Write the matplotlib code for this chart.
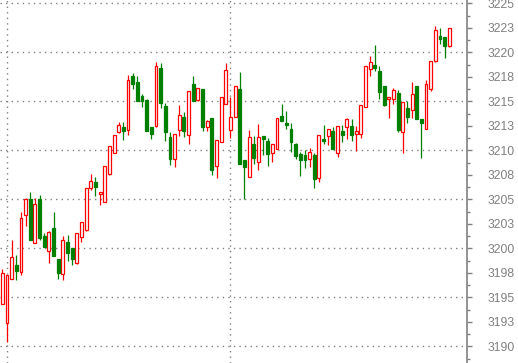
import numpy as np
import matplotlib
matplotlib.use("Agg")
import matplotlib.pyplot as plt
from matplotlib.ticker import MultipleLocator, FuncFormatter

# bougies (open, high, low, close)
opens = [3194.3, 3192.35, 3196.85, 3198.25, 3197.6, 3203.45, 3205.0, 3200.5, 3205.0, 3201.3,
         3199.75, 3202.05, 3198.9, 3197.35, 3200.6, 3200.05, 3198.5, 3201.2, 3201.85, 3206.2,
         3206.75, 3205.55, 3204.75, 3207.6, 3209.75, 3211.85, 3212.4, 3212.05, 3217.55, 3216.95,
         3215.55, 3215.1, 3212.4, 3212.5, 3218.4, 3214.5, 3211.35, 3209.1, 3212.05, 3213.4,
         3211.55, 3216.75, 3215.15, 3216.25, 3212.35, 3213.3, 3208.45, 3210.8, 3214.7, 3212.05,
         3213.45, 3216.25, 3209.0, 3207.3, 3210.65, 3208.8, 3211.45, 3210.95, 3209.75, 3210.15,
         3213.5, 3212.8, 3212.2, 3210.65, 3209.6, 3209.5, 3209.15, 3209.5, 3207.2, 3211.2,
         3211.5, 3211.95, 3209.75, 3211.95, 3212.35, 3212.5, 3211.65, 3211.65, 3214.4, 3218.35,
         3218.7, 3218.1, 3216.55, 3215.25, 3215.25, 3215.85, 3211.85, 3214.3, 3214.1, 3216.55,
         3213.2, 3212.15, 3216.3, 3219.1, 3221.65, 3221.55, 3220.6]
highs = [3197.9, 3197.25, 3200.85, 3199.3, 3203.7, 3205.15, 3205.75, 3205.15, 3205.45, 3201.55,
         3201.8, 3203.7, 3198.9, 3201.25, 3201.35, 3200.05, 3201.55, 3202.65, 3206.2, 3207.6,
         3207.3, 3205.75, 3208.45, 3210.4, 3211.55, 3212.9, 3212.9, 3217.65, 3217.9, 3217.6,
         3215.75, 3215.25, 3212.4, 3219.0, 3218.9, 3214.85, 3211.85, 3211.65, 3214.6, 3213.9,
         3216.05, 3217.6, 3216.35, 3216.25, 3213.1, 3213.3, 3211.1, 3215.4, 3218.9, 3215.4,
         3216.55, 3218.0, 3209.0, 3212.05, 3211.45, 3212.7, 3211.45, 3211.25, 3210.6, 3213.35,
         3214.75, 3214.0, 3212.8, 3210.75, 3209.85, 3210.05, 3210.25, 3209.7, 3211.55, 3212.6,
         3212.15, 3212.35, 3212.45, 3212.6, 3213.35, 3213.2, 3212.5, 3214.6, 3218.65, 3219.65,
         3220.75, 3218.6, 3216.55, 3215.4, 3216.35, 3216.15, 3214.95, 3215.05, 3217.0, 3216.55,
         3213.2, 3217.2, 3219.1, 3222.7, 3222.5, 3221.55, 3222.45]
lows = [3194.3, 3190.4, 3196.85, 3196.75, 3197.3, 3202.3, 3200.8, 3200.5, 3200.85, 3200.15,
        3198.55, 3199.25, 3196.85, 3196.75, 3198.75, 3198.3, 3198.45, 3200.6, 3201.8, 3205.95,
        3205.35, 3204.45, 3204.75, 3207.5, 3209.75, 3211.8, 3211.05, 3211.55, 3216.3, 3215.05,
        3214.45, 3212.0, 3211.2, 3212.4, 3214.35, 3211.0, 3208.55, 3208.25, 3211.5, 3211.4,
        3210.6, 3215.05, 3215.05, 3212.0, 3212.0, 3207.5, 3207.2, 3210.8, 3214.7, 3211.3,
        3213.45, 3208.65, 3205.0, 3207.3, 3208.65, 3207.95, 3209.55, 3208.45, 3208.8, 3210.15,
        3212.95, 3212.2, 3209.85, 3209.15, 3207.4, 3208.15, 3208.25, 3206.2, 3206.8, 3210.65,
        3210.5, 3210.15, 3209.35, 3210.8, 3211.2, 3211.0, 3209.95, 3211.3, 3214.4, 3217.6,
        3218.1, 3215.25, 3214.5, 3213.25, 3214.75, 3211.85, 3209.75, 3212.8, 3213.35, 3213.15,
        3209.25, 3212.15, 3216.1, 3219.0, 3220.9, 3219.45, 3220.5]
closes = [3197.5, 3197.25, 3199.1, 3197.7, 3203.05, 3205.0, 3200.8, 3204.5, 3201.1, 3200.15,
          3201.65, 3199.25, 3197.5, 3200.85, 3199.55, 3198.95, 3201.55, 3202.65, 3206.2, 3206.85,
          3206.3, 3205.7, 3208.45, 3210.4, 3211.55, 3212.55, 3211.95, 3217.15, 3216.8, 3215.05,
          3215.05, 3212.0, 3211.7, 3218.65, 3214.85, 3211.9, 3209.15, 3211.65, 3213.65, 3212.0,
          3216.05, 3215.05, 3216.35, 3212.4, 3212.95, 3207.95, 3211.1, 3215.4, 3218.2, 3213.45,
          3216.55, 3208.65, 3208.25, 3211.35, 3209.2, 3211.35, 3211.2, 3209.65, 3210.6, 3213.35,
          3212.95, 3212.6, 3210.8, 3209.45, 3209.05, 3209.05, 3209.8, 3207.1, 3211.55, 3211.0,
          3212.15, 3210.15, 3212.45, 3211.6, 3213.2, 3211.6, 3211.95, 3214.6, 3218.65, 3219.0,
          3218.45, 3216.0, 3214.65, 3215.4, 3216.15, 3212.1, 3214.95, 3213.45, 3215.75, 3213.15,
          3212.8, 3216.75, 3219.1, 3222.25, 3221.4, 3220.6, 3222.45]

separateurs = [1, 49]   # lignes verticales pointillées

o = np.array(opens)
h = np.array(highs)
l = np.array(lows)
c = np.array(closes)
x = np.arange(len(o))
hausse = c >= o

ROUGE = "#ff0000"
VERT = "#008000"
GRIS = "#808080"

fig = plt.figure(figsize=(5.18, 3.63), dpi=100)
ax = fig.add_axes([0, 0, 467 / 518, 1])

couleurs = np.where(hausse, ROUGE, VERT)
ax.vlines(x, l, h, colors=couleurs, linewidth=0.9, zorder=3)
corps = np.maximum(np.abs(c - o), 0.08)
ax.bar(x[hausse], corps[hausse], bottom=np.minimum(o, c)[hausse], width=0.62,
       facecolor="white", edgecolor=ROUGE, linewidth=0.9, zorder=4)
ax.bar(x[~hausse], corps[~hausse], bottom=np.minimum(o, c)[~hausse], width=0.62,
       facecolor=VERT, edgecolor=VERT, linewidth=0.9, zorder=4)

ax.set_xlim(-0.5, 99.8)
ax.set_ylim(3188.3, 3225.34)

# axe de droite
ax.yaxis.tick_right()
ax.yaxis.set_major_locator(MultipleLocator(2.5))
ax.yaxis.set_minor_locator(MultipleLocator(1.25))
ax.yaxis.set_major_formatter(FuncFormatter(lambda v, p: f"{int(v + 0.5)}"))
ax.tick_params(axis="y", which="major", length=3.6, width=1, color=GRIS, pad=11.3,
               labelsize=8.7, labelcolor=GRIS)
ax.tick_params(axis="y", which="minor", length=2.2, width=1, color=GRIS)
for lab in ax.get_yticklabels():
    lab.set_fontfamily("Liberation Sans")

ax.set_xticks(separateurs)
ax.tick_params(axis="x", length=0, labelbottom=False)

for s in ["left", "top", "bottom"]:
    ax.spines[s].set_visible(False)
ax.spines["right"].set_color(GRIS)
ax.spines["right"].set_linewidth(1.2)

for v in range(3190, 3226, 5):
    ax.axhline(v, color=GRIS, linestyle=(0, (1, 3)), linewidth=1, zorder=1)
for s in separateurs:
    ax.axvline(s, color=GRIS, linestyle=(0, (1, 3)), linewidth=1, zorder=1)

fig.savefig("out.png", dpi=100)
